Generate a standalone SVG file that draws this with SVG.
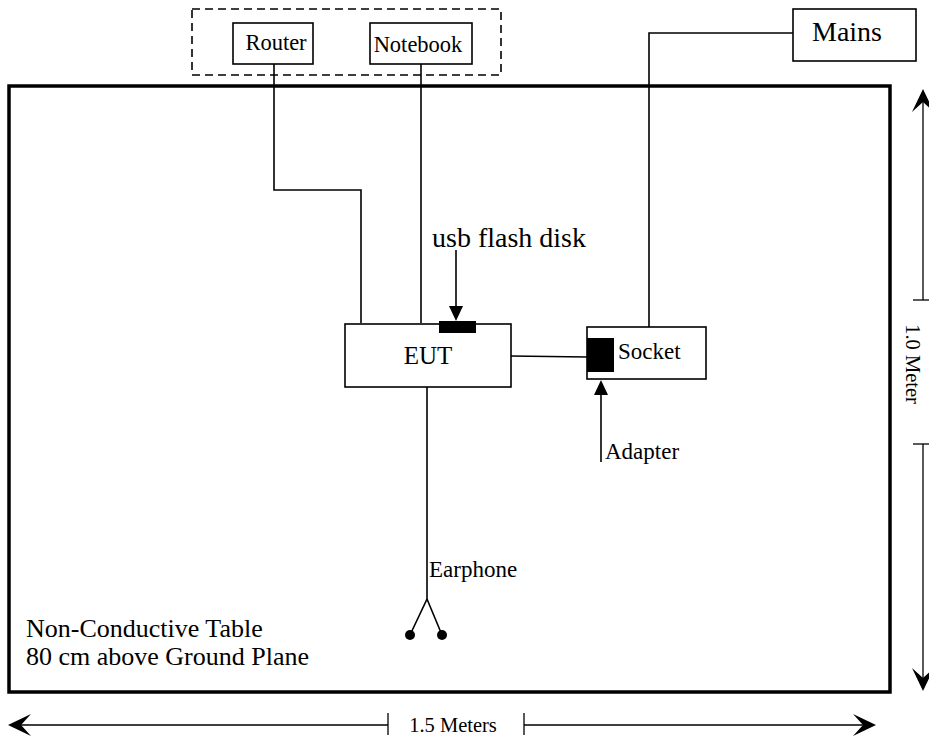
<svg xmlns="http://www.w3.org/2000/svg" width="929" height="738" viewBox="0 0 929 738">
<style>
.box{fill:#fff;stroke:#000;stroke-width:1.6}
.w{fill:none;stroke:#000;stroke-width:1.6}
.d{fill:none;stroke:#000;stroke-width:1.3}
.t{font-family:"Liberation Serif","Times New Roman",serif;fill:#000}
.blk{fill:#000}
</style>
<rect width="929" height="738" fill="#fff"/>
<g id="table">
<rect x="9" y="86" width="881" height="606" fill="none" stroke="#000" stroke-width="3.5"/>
<text class="t" x="26" y="637" font-size="26">Non-Conductive Table</text>
<text class="t" x="26" y="665" font-size="26">80 cm above Ground Plane</text>
</g>
<g id="support-group">
<rect x="192" y="9" width="309" height="66" fill="none" stroke="#000" stroke-width="1.6" stroke-dasharray="8,5"/>
</g>
<g id="connectors">
<polyline class="w" points="274,64 274,190 361,190 361,323"/>
<line class="w" x1="421" y1="64" x2="421" y2="323"/>
<polyline class="w" points="793,33 649,33 649,327"/>
<line class="w" x1="511" y1="356" x2="587" y2="357"/>
<polyline class="w" points="427,387 427,599 410,635"/>
<line class="w" x1="427" y1="599" x2="442" y2="635"/>
<circle class="blk" cx="410" cy="635" r="5"/>
<circle class="blk" cx="442" cy="635" r="5"/>
<line class="w" x1="456" y1="250" x2="456" y2="308"/>
<path class="blk" d="M449,306 L463,306 L456,321 Z"/>
<line class="w" x1="601" y1="393" x2="601" y2="462"/>
<path class="blk" d="M594,395 L608,395 L601,380 Z"/>
</g>
<g id="router">
<rect class="box" x="233" y="23" width="80" height="41"/>
<text class="t" x="276" y="50" font-size="22.5" text-anchor="middle">Router</text>
</g>
<g id="notebook">
<rect class="box" x="370" y="23" width="102" height="41"/>
<text class="t" x="418" y="52" font-size="22.5" text-anchor="middle">Notebook</text>
</g>
<g id="mains">
<rect class="box" x="793" y="9" width="123" height="52"/>
<text class="t" x="847" y="41" font-size="28" text-anchor="middle">Mains</text>
</g>
<g id="eut">
<rect class="box" x="345" y="324" width="166" height="63"/>
<rect class="blk" x="439" y="321" width="37" height="12"/>
<text class="t" x="428" y="364" font-size="25" text-anchor="middle">EUT</text>
</g>
<g id="usb">
<text class="t" x="432" y="247" font-size="28">usb flash disk</text>
</g>
<g id="socket">
<rect class="box" x="587" y="327" width="119" height="52"/>
<rect class="blk" x="587" y="338" width="27" height="34"/>
<text class="t" x="618" y="359" font-size="23">Socket</text>
</g>
<g id="adapter">
<text class="t" x="605" y="459" font-size="23">Adapter</text>
</g>
<g id="earphone">
<text class="t" x="429" y="577" font-size="23">Earphone</text>
</g>
<g id="dim-width">
<line class="d" x1="14" y1="725" x2="388" y2="725"/>
<line class="d" x1="388" y1="713" x2="388" y2="735"/>
<path class="blk" d="M8,725 L31,714 L21,725 L31,736 Z"/>
<text class="t" x="453" y="732" font-size="20.5" text-anchor="middle">1.5 Meters</text>
<line class="d" x1="524" y1="725" x2="869" y2="725"/>
<line class="d" x1="524" y1="713" x2="524" y2="735"/>
<path class="blk" d="M876,725 L853,714 L863,725 L853,736 Z"/>
</g>
<g id="dim-height">
<line class="d" x1="923" y1="96" x2="923" y2="300"/>
<line class="d" x1="913" y1="300" x2="929" y2="300"/>
<path class="blk" d="M923,89 L912,112 L923,102 L934,112 Z"/>
<text class="t" font-size="20.5" text-anchor="middle" transform="translate(906,364) rotate(90)">1.0 Meter</text>
<line class="d" x1="923" y1="444" x2="923" y2="684"/>
<line class="d" x1="913" y1="444" x2="929" y2="444"/>
<path class="blk" d="M923,691 L912,668 L923,678 L934,668 Z"/>
</g>
</svg>
